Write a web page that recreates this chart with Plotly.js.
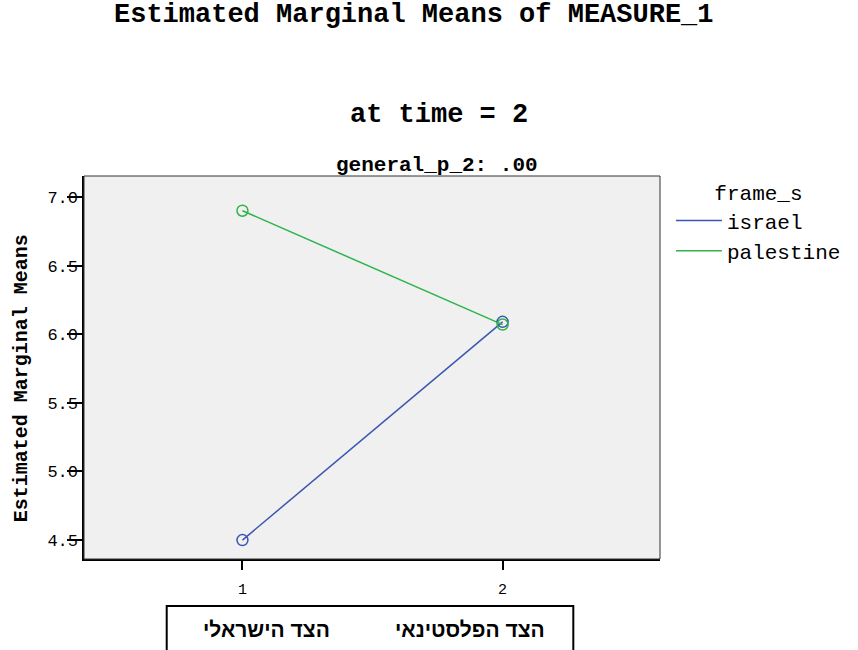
<!DOCTYPE html>
<html>
<head>
<meta charset="utf-8">
<script src="https://cdn.plot.ly/plotly-3.0.1.min.js"></script>
<style>body{margin:0;background:#fff;}#chart{width:858px;height:650px;}</style>
</head>
<body>
<div id="chart"></div>
<script>
// Data
const xLevels = [1, 2];
const xTickLabels = ["1", "2"];
const israelMeans = [4.50, 6.09];
const palestineMeans = [6.90, 6.07];
const seriesNames = ["israel", "palestine"];
const seriesColors = ["#3b56b0", "#2db44a"];
const categoryLabels = ["הצד הישראלי", "הצד הפלסטינאי"];
const yTicks = [4.5, 5.0, 5.5, 6.0, 6.5, 7.0];

const mono = "Liberation Mono, Courier New, monospace";
const seriesValues = [israelMeans, palestineMeans];
const yRange = [4.362, 7.153];

const traces = [];
seriesValues.forEach((vals, i) => {
  traces.push({
    x: xLevels, y: vals, type: "scatter", mode: "lines",
    name: seriesNames[i], line: {color: seriesColors[i], width: 1.5},
    showlegend: true, hoverinfo: "skip"
  });
});
seriesValues.forEach((vals, i) => {
  traces.push({
    x: xLevels, y: vals, type: "scatter", mode: "markers", yaxis: "y2",
    name: seriesNames[i],
    marker: {symbol: "circle-open", size: 11, color: seriesColors[i], line: {width: 1.5, color: seriesColors[i]}},
    showlegend: false, hoverinfo: "skip"
  });
});

const boldMono = (size) => ({family: mono, size: size, color: "#000", weight: "bold"});
const heb = {family: "Liberation Sans, Arial, sans-serif", size: 21, color: "#000", weight: "bold"};

const annotations = [
  {text: "Estimated Marginal Means of MEASURE_1", xref: "paper", yref: "paper", x: 0.5727, y: 1.420, xanchor: "center", yanchor: "middle", showarrow: false, font: boldMono(27)},
  {text: "at time = 2", xref: "paper", yref: "paper", x: 0.616, y: 1.159, xanchor: "center", yanchor: "middle", showarrow: false, font: boldMono(27)},
  {text: "general_p_2: .00", xref: "paper", yref: "paper", x: 0.6125, y: 1.027, xanchor: "center", yanchor: "middle", showarrow: false, font: boldMono(21)},
  {text: "Estimated Marginal Means", xref: "paper", yref: "paper", x: -0.107, y: 0.4726, xanchor: "center", yanchor: "middle", textangle: -90, showarrow: false, font: boldMono(20)},
  {text: categoryLabels[0], xref: "paper", yref: "paper", x: 0.3166, y: -0.185, xanchor: "center", yanchor: "middle", showarrow: false, font: heb},
  {text: categoryLabels[1], xref: "paper", yref: "paper", x: 0.671, y: -0.185, xanchor: "center", yanchor: "middle", showarrow: false, font: heb}
];

const layout = {
  width: 858, height: 650,
  margin: {l: 84, r: 196, t: 176, b: 91},
  paper_bgcolor: "#ffffff", plot_bgcolor: "#f0f0f0",
  showlegend: true,
  legend: {
    x: 1.019, xanchor: "left", y: 1.008, yanchor: "top",
    bgcolor: "rgba(0,0,0,0)", font: {family: mono, size: 21, color: "#000"},
    title: {text: "frame_s", side: "top center", font: {family: mono, size: 21, color: "#000"}},
    itemwidth: 46, tracegroupgap: 0
  },
  xaxis: {
    range: [0.391, 2.605], tickvals: xLevels, ticktext: xTickLabels,
    showgrid: false, zeroline: false, showline: true, linecolor: "#000", linewidth: 2,
    ticks: "outside", ticklen: 9, tickwidth: 2, tickcolor: "#000",
    ticklabelstandoff: 6,
    tickfont: {family: mono, size: 15, color: "#000"}, fixedrange: true
  },
  yaxis: {
    range: yRange, tickvals: yTicks,
    showgrid: false, zeroline: false, showline: true, linecolor: "#000", linewidth: 2,
    ticks: "outside", ticklen: 15, tickwidth: 2, tickcolor: "#000",
    showticklabels: false, fixedrange: true
  },
  yaxis2: {
    range: yRange, tickvals: yTicks, tickformat: ".1f", overlaying: "y", side: "left",
    showgrid: false, zeroline: false, showline: false, ticks: "",
    ticklabelstandoff: 5,
    tickfont: {family: mono, size: 17, color: "#000"}, fixedrange: true
  },
  shapes: [
    {type: "rect", xref: "paper", yref: "paper", x0: 0, x1: 1, y0: 0, y1: 1, line: {color: "#333", width: 1}, layer: "above"},
    {type: "rect", xref: "paper", yref: "paper", x0: 0.1436, x1: 0.8495, y0: -0.1227, y1: -0.26, line: {color: "#000", width: 2}}
  ],
  annotations: annotations
};

Plotly.newPlot("chart", traces, layout, {displayModeBar: false, staticPlot: true});
</script>
</body>
</html>
